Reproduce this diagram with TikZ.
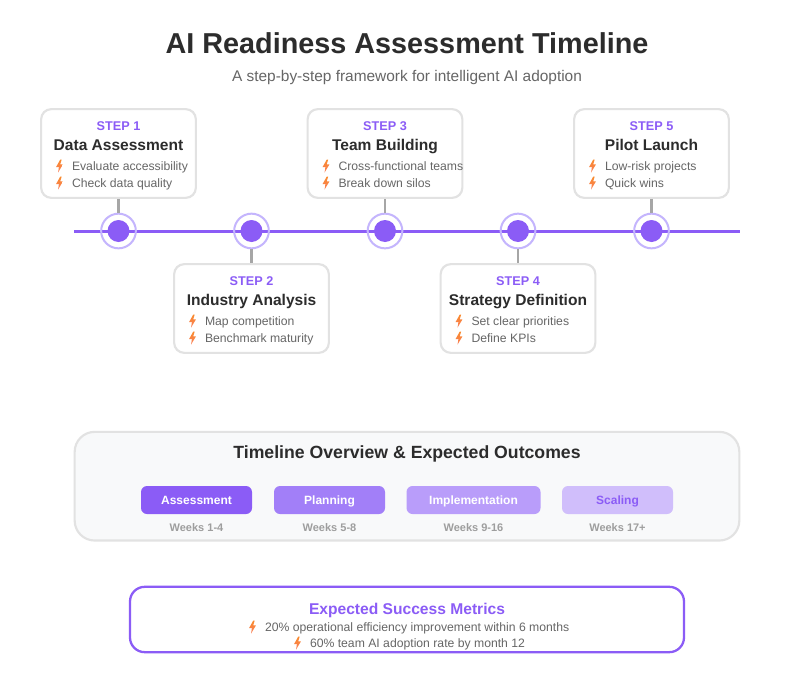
\documentclass[tikz,border=0pt]{standalone}
\usepackage{fontspec}
\setmainfont{Liberation Sans}
\definecolor{vio}{HTML}{8B5CF6}
\definecolor{ring}{HTML}{C4B5FD}
\definecolor{edge}{HTML}{E2E2E2}
\definecolor{ink}{HTML}{2C2C2C}
\definecolor{body}{HTML}{666666}
\definecolor{bolta}{HTML}{F98A2C}
\definecolor{boltb}{HTML}{FA7F5A}
\definecolor{panel}{HTML}{F8F9FA}
\tikzset{
  x=0.75pt,y=-0.75pt,
  txt/.style={inner sep=0pt,outer sep=0pt,anchor=base},
  card/.style={draw=edge,line width=1.6pt,fill=white,rounded corners=7.5pt},
  stemline/.style={draw=black!35,line width=2.1pt},
  steplabel/.style={txt,text=vio,font=\bfseries\fontsize{9.5}{11}\selectfont},
  cardtitle/.style={txt,text=ink,font=\bfseries\fontsize{11.65}{14}\selectfont},
  itemtext/.style={txt,anchor=base west,text=body,font=\fontsize{9.15}{11}\selectfont},
  dot/.style={circle,fill=vio,minimum size=16.5pt,inner sep=0pt},
  halo/.style={circle,draw=ring,line width=1.5pt,minimum size=26pt,inner sep=0pt},
  pill/.style={rounded corners=4.5pt,minimum height=21pt,inner sep=0pt},
  pilltext/.style={txt,text=white,font=\bfseries\fontsize{9}{11}\selectfont},
  weektext/.style={txt,text=black!38,font=\bfseries\fontsize{8.25}{10}\selectfont},
  boltmark/.pic={\shade[top color=bolta,bottom color=boltb] (0.8,-6.5) -- (-3.4,1) -- (-0.6,1) -- (-1.4,6.5) -- (3.4,-1.6) -- (0.7,-1.6) -- (2.2,-6.5) -- cycle;},
}
\begin{document}
\begin{tikzpicture}
\useasboundingbox (0,0) rectangle (804,678);
\fill[white] (0,0) rectangle (804,678);
\node[txt,text=ink,font=\bfseries\fontsize{21.6}{26}\selectfont] (title) at (407,53) {AI Readiness Assessment Timeline};
\node[txt,text=body,font=\fontsize{11.57}{14}\selectfont] (subtitle) at (407,81) {A step-by-step framework for intelligent AI adoption};
\draw[vio,line width=2.25pt] (74,231) coordinate (ls) -- (740,231) coordinate (le);
\newcommand{\stepcard}[7]{%
  \node[card,minimum width=116pt,minimum height=66.5pt,inner sep=0pt] (c#1) at (#2,#3+44.5) {};
  \node[steplabel] (s#1) at (#2,#3+21.5) {#4};
  \node[cardtitle] (t#1) at (#2,#3+41.5) {#5};
  \pic at (#2-59,#3+57) {boltmark};
  \node[itemtext] (a#1) at (#2-46.5,#3+61) {#6};
  \pic at (#2-59,#3+74) {boltmark};
  \node[itemtext] (b#1) at (#2-46.5,#3+78) {#7};
}
\stepcard{1}{118.5}{109}{STEP 1}{Data Assessment}{Evaluate accessibility}{Check data quality}
\stepcard{2}{251.5}{264}{STEP 2}{Industry Analysis}{Map competition}{Benchmark maturity}
\stepcard{3}{385}{109}{STEP 3}{Team Building}{Cross-functional teams}{Break down silos}
\stepcard{4}{518}{264}{STEP 4}{Strategy Definition}{Set clear priorities}{Define KPIs}
\stepcard{5}{651.5}{109}{STEP 5}{Pilot Launch}{Low-risk projects}{Quick wins}
\foreach \i/\cx in {1/118.5,2/251.5,3/385,4/518,5/651.5}{
  \node[halo] (h\i) at (\cx,231) {};
  \node[dot] (d\i) at (\cx,231) {};
}
\draw[stemline] (c1.south) -- (h1.north);
\draw[stemline] (c3.south) -- (h3.north);
\draw[stemline] (c5.south) -- (h5.north);
\draw[stemline] (h2.south) -- (c2.north);
\draw[stemline] (h4.south) -- (c4.north);
\node[draw=edge,line width=1.6pt,fill=panel,rounded corners=15pt,minimum width=498.5pt,minimum height=81.5pt,inner sep=0pt] (ov) at (407,486.2) {};
\node[txt,text=ink,font=\bfseries\fontsize{13.25}{16}\selectfont] (ovt) at (407,458) {Timeline Overview \& Expected Outcomes};
\definecolor{p1}{HTML}{8B5CF6}\definecolor{p2}{HTML}{A27FF8}\definecolor{p3}{HTML}{B99DFA}\definecolor{p4}{HTML}{D0BEFB}
\foreach \i/\cx/\w/\lab/\wk/\tc in {1/196.5/83.25/Assessment/Weeks 1-4/white,2/329.5/83.25/Planning/Weeks 5-8/white,3/473.5/100.5/Implementation/Weeks 9-16/white,4/617.5/83.25/Scaling/Weeks 17+/vio}{
  \node[pill,fill=p\i,minimum width=\w pt] (p\i n) at (\cx,500) {};
  \node[pilltext,text=\tc] (pt\i) at (\cx,504.5) {\lab};
  \node[weektext] (w\i) at (\cx,531) {\wk};
}
\node[draw=vio,line width=1.7pt,fill=white,rounded corners=11pt,minimum width=415.5pt,minimum height=49pt,inner sep=0pt] (m) at (407,619.5) {};
\node[txt,text=vio,font=\bfseries\fontsize{11.7}{14}\selectfont] (mt) at (407,614) {Expected Success Metrics};
\pic at (252.5,627) {boltmark};
\node[itemtext] (m1) at (265,631) {20\% operational efficiency improvement within 6 months};
\pic at (297.5,643) {boltmark};
\node[itemtext] (m2) at (310,647) {60\% team AI adoption rate by month 12};
\end{tikzpicture}
\end{document}
